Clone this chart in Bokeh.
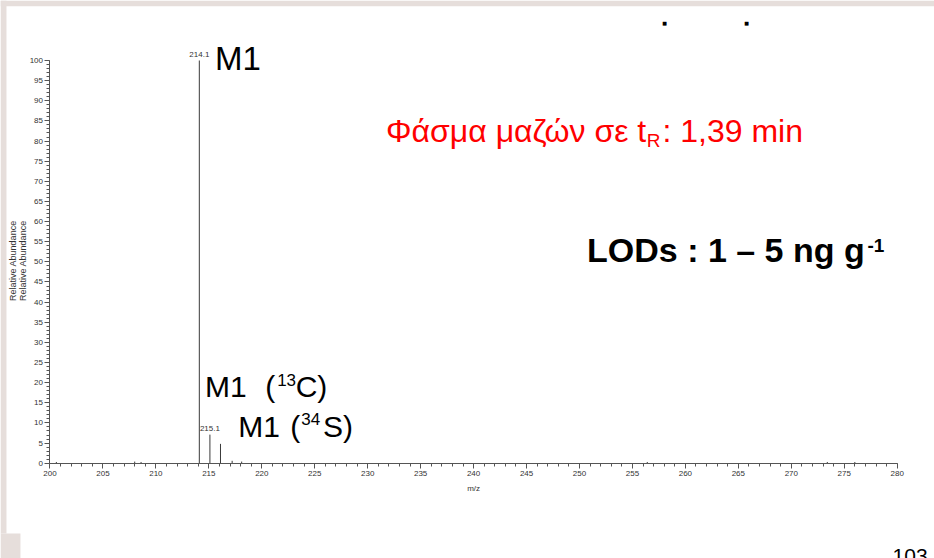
from math import pi
from bokeh.plotting import figure
from bokeh.models import ColumnDataSource, SingleIntervalTicker, Range1d, BoxAnnotation
from bokeh.embed import file_html
from bokeh.resources import INLINE
from bokeh.core.properties import value

# ---- data ----
mz = [200.6, 208.0, 208.6, 214.1, 215.1, 216.1, 217.2, 218.1, 256.4, 273.4, 276.0]
abundance = [0.3, 0.4, 0.3, 100.0, 7.1, 4.8, 0.6, 0.4, 0.3, 0.3, 0.3]
labeled_mz = [214.1, 215.1]
labeled_abundance = [100.0, 7.1]
x_bounds = (200, 280)
y_bounds = (0, 100)

NARROW = "'Liberation Sans Narrow', 'Liberation Sans', Arial, sans-serif"
SANS = "'Liberation Sans', Arial, sans-serif"
SLIDE_GRAY = "#e6dedb"

p = figure(width=934, height=558, output_backend="svg", toolbar_location=None,
           x_range=Range1d(195.326, 283.522), y_range=Range1d(-23.665, 114.90),
           min_border_left=0, min_border_right=0, min_border_top=0,
           min_border_bottom=0)
p.outline_line_color = None
p.xgrid.visible = False
p.ygrid.visible = False
p.background_fill_color = "white"
p.border_fill_color = "white"

# slide background bands around the chart image
p.add_layout(BoxAnnotation(bottom=113.5, fill_color=SLIDE_GRAY, fill_alpha=1, line_color=None))
p.add_layout(BoxAnnotation(right=195.89, fill_color=SLIDE_GRAY, fill_alpha=1, line_color=None,
                           bottom=-17.46))
p.add_layout(BoxAnnotation(right=197.21, top=-17.46, fill_color=SLIDE_GRAY, fill_alpha=1,
                           line_color=None))

src = ColumnDataSource(dict(x=mz, y0=[0] * len(mz), y1=abundance))
p.segment(x0="x", y0="y0", x1="x", y1="y1", source=src, line_color="#3a3a3a", line_width=1)

lab_src = ColumnDataSource(dict(x=labeled_mz, y=labeled_abundance,
                                t=[f"{v:.1f}" for v in labeled_mz]))
p.text(x="x", y="y", text="t", source=lab_src, text_align="center",
       text_baseline="bottom", y_offset=-4, text_font=value(NARROW),
       text_font_size="8px", text_color="#333333")

p.xaxis.fixed_location = 0
p.yaxis.fixed_location = 200
for ax, bounds in ((p.xaxis[0], x_bounds), (p.yaxis[0], y_bounds)):
    ax.bounds = bounds
    ax.ticker = SingleIntervalTicker(interval=5, num_minor_ticks=5)
    ax.axis_line_color = "#555555"
    ax.major_tick_line_color = "#555555"
    ax.minor_tick_line_color = "#555555"
    ax.major_tick_out = 5
    ax.major_tick_in = 0
    ax.minor_tick_out = 3
    ax.minor_tick_in = 0
    ax.major_label_text_font = NARROW
    ax.major_label_text_font_size = "8px"
    ax.major_label_text_color = "#333333"
p.xaxis.major_label_standoff = 3
p.yaxis.major_label_standoff = 2


def add_text(text, x, y, size, color="#000000", bold=False, font=SANS,
             align="left", baseline="alphabetic", angle=0, lift=None):
    if lift is None:
        lift = round(0.31 * size) if baseline == "alphabetic" else 0
    p.text(x=[x], y=[y], text=[text], text_font=value(font),
           text_font_size=f"{size}px", text_color=color,
           text_font_style="bold" if bold else "normal",
           text_align=align, text_baseline=baseline, angle=angle, y_offset=-lift)


# axis titles
add_text("Relative Abundance", 196.51, 50.3, 9, color="#333333", font=NARROW,
         align="center", baseline="middle", angle=pi / 2)
add_text("Relative Abundance", 197.45, 50.3, 9, color="#333333", font=NARROW,
         align="center", baseline="middle", angle=pi / 2)
add_text("m/z", 240.0, -6.78, 8, color="#333333", font=NARROW, align="center")

# annotations
add_text("M1", 215.59, 97.94, 33)
add_text("Φάσμα μαζών σε t", 231.73, 79.89, 32, color="#ff0000")
add_text("R", 256.36, 78.65, 19, color="#ff0000")
add_text(": 1,39 min", 271.1, 79.89, 32, color="#ff0000", align="right")
add_text("LODs : 1 – 5 ng g", 250.71, 50.09, 34, bold=True)
add_text("-1", 277.19, 52.58, 19, bold=True)

add_text("M1", 214.64, 16.81, 30)
add_text("(", 220.32, 16.81, 30)
add_text("13", 221.45, 19.54, 17)
add_text("C)", 223.2, 16.81, 30)

add_text("M1", 217.78, 6.88, 30)
add_text("(", 222.68, 6.88, 30)
add_text("34", 223.72, 9.78, 17)
add_text("S)", 225.77, 6.88, 30)

# fragments of the slide around the chart
add_text("■", 258.03, 109.2, 5, align="center", baseline="middle", font="DejaVu Sans")
add_text("■", 265.77, 109.2, 5, align="center", baseline="middle", font="DejaVu Sans")
add_text("103", 279.56, -23.9, 21, lift=3)

open("out.html", "w").write(file_html(p, INLINE))
